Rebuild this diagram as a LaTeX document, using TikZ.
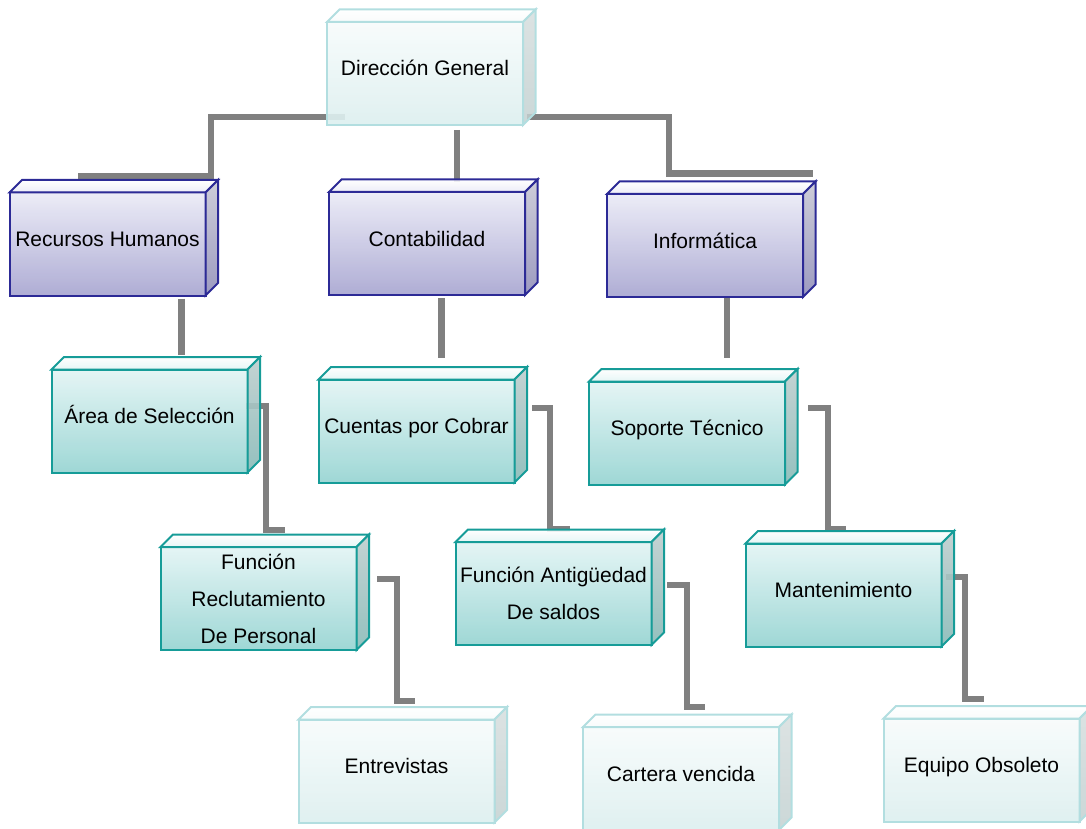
\documentclass[tikz,border=0pt]{standalone}
\usepackage{fontspec}
\setmainfont{Liberation Sans}
\usepackage{tikz}
\definecolor{lineagris}{RGB}{128,128,128}
\definecolor{bordemorado}{RGB}{44,42,150}
\definecolor{moradoarriba}{RGB}{234,234,246}
\definecolor{moradoabajo}{RGB}{166,164,208}
\definecolor{ladomoradoa}{RGB}{200,200,212}
\definecolor{ladomoradob}{RGB}{146,144,186}
\definecolor{bordeverde}{RGB}{22,156,152}
\definecolor{verdearriba}{RGB}{226,244,244}
\definecolor{verdeabajo}{RGB}{148,211,209}
\definecolor{ladoverdea}{RGB}{190,206,206}
\definecolor{ladoverdeb}{RGB}{136,186,183}
\definecolor{bordeclaro}{RGB}{178,222,224}
\definecolor{clarosarriba}{RGB}{247,251,251}
\definecolor{clarosabajo}{RGB}{220,239,239}
\definecolor{ladoclaroa}{RGB}{214,222,222}
\definecolor{ladoclarob}{RGB}{194,208,208}
\pgfdeclarelayer{fondo}
\pgfsetlayers{fondo,main}

\begin{document}
\begin{tikzpicture}[x=1pt,y=-1pt,
	caja/.style={minimum width=196pt, minimum height=103pt, inner sep=2pt, outer sep=0pt,
		line width=2pt, font=\fontsize{21}{37}\selectfont, align=center,
		fill opacity=0.9, text opacity=1},
	una/.style={text height=15pt, text depth=10pt},
	morada/.style={caja, draw=bordemorado, top color=moradoarriba, middle color=moradoabajo, bottom color=moradoabajo},
	verde/.style={caja, draw=bordeverde, top color=verdearriba, middle color=verdeabajo, bottom color=verdeabajo},
	clara/.style={caja, draw=bordeclaro, top color=clarosarriba, bottom color=clarosabajo},
	conector/.style={line width=6.5pt, color=lineagris}]

	\useasboundingbox (0,0) rectangle (1086,829);

	\node[clara,una] (dir) at (425,73.5) {Dirección General};

	\node[morada,una] (rh) at (107.5,244) {Recursos Humanos};
	\node[morada,una] (cont) at (427,243.5) {Contabilidad};
	\node[morada,una] (info) at (705,245.5) {Informática};

	\node[verde,una] (area) at (149.5,421) {Área de Selección};
	\node[verde,una] (cuentas) at (416.5,431) {Cuentas por Cobrar};
	\node[verde,una] (soporte) at (687,433) {Soporte Técnico};

	\node[verde] (recl) at (258.5,598.5) {Función\\Reclutamiento\\De Personal};
	\node[verde] (antig) at (553.5,593.5) {Función Antigüedad\\De saldos};
	\node[verde,una] (mant) at (843.5,595) {Mantenimiento};

	\node[clara,una] (entrev) at (396.5,771) {Entrevistas};
	\node[clara,una] (cartera) at (681,778.5) {Cartera vencida};
	\node[clara,una] (equipo) at (981.5,770) {Equipo Obsoleto};

	\foreach \n in {rh,cont,info} {
		\shade[draw=bordemorado, line width=2pt, fill opacity=0.9, top color=white, bottom color=moradoarriba] (\n.north west) -- ++(12.5,-12.5) -- ([shift={(12.5,-12.5)}]\n.north east) -- (\n.north east) -- cycle;
		\shade[draw=bordemorado, line width=2pt, fill opacity=0.9, top color=ladomoradoa, bottom color=ladomoradob] (\n.north east) -- ++(12.5,-12.5) -- ([shift={(12.5,-12.5)}]\n.south east) -- (\n.south east) -- cycle;
	}
	\foreach \n in {area,cuentas,soporte,recl,antig,mant} {
		\shade[draw=bordeverde, line width=2pt, fill opacity=0.9, top color=white, bottom color=verdearriba] (\n.north west) -- ++(12.5,-12.5) -- ([shift={(12.5,-12.5)}]\n.north east) -- (\n.north east) -- cycle;
		\shade[draw=bordeverde, line width=2pt, fill opacity=0.9, top color=ladoverdea, bottom color=ladoverdeb] (\n.north east) -- ++(12.5,-12.5) -- ([shift={(12.5,-12.5)}]\n.south east) -- (\n.south east) -- cycle;
	}
	\foreach \n in {dir,entrev,cartera,equipo} {
		\shade[draw=bordeclaro, line width=2pt, fill opacity=0.85, top color=white, bottom color=clarosarriba] (\n.north west) -- ++(12.5,-12.5) -- ([shift={(12.5,-12.5)}]\n.north east) -- (\n.north east) -- cycle;
		\shade[draw=bordeclaro, line width=2pt, fill opacity=0.85, top color=ladoclaroa, bottom color=ladoclarob] (\n.north east) -- ++(12.5,-12.5) -- ([shift={(12.5,-12.5)}]\n.south east) -- (\n.south east) -- cycle;
	}

	\begin{pgfonlayer}{fondo}
	\draw[conector] ([shift={(-80,-8)}]dir.south) -| ([shift={(103.5,-16.5)}]rh.north) -- ([shift={(-29.5,-16.5)}]rh.north);
	\draw[conector] ([shift={(32,5)}]dir.south) -- ([shift={(30,-10)}]cont.north);
	\draw[conector] ([shift={(4,-8)}]dir.south east) -| ([shift={(-36,-20.5)}]info.north) -- ([shift={(108,-20.5)}]info.north);

	\draw[conector] ([shift={(74,3)}]rh.south) -- ([shift={(32,-14.5)}]area.north);
	\draw[conector] ([shift={(14.5,3)}]cont.south) -- ([shift={(25,-21.5)}]cuentas.north);
	\draw[conector] ([shift={(22,0)}]info.south) -- ([shift={(40,-23.5)}]soporte.north);

	\draw[conector] ([shift={(-1.5,-15)}]area.east) -| ([shift={(7.5,-17)}]recl.north) -- ([shift={(26.5,-17)}]recl.north);
	\draw[conector] ([shift={(17.5,-23)}]cuentas.east) -| ([shift={(-3.5,-13)}]antig.north) -- ([shift={(16.5,-13)}]antig.north);
	\draw[conector] ([shift={(23,-25)}]soporte.east) -| ([shift={(-15.5,-14.5)}]mant.north) -- ([shift={(2.5,-14.5)}]mant.north);

	\draw[conector] ([shift={(20.5,-19.5)}]recl.east) -| ([shift={(0.5,-18.5)}]entrev.north) -- ([shift={(18.5,-18.5)}]entrev.north);
	\draw[conector] ([shift={(15.5,-8.5)}]antig.east) -| ([shift={(6,-20)}]cartera.north) -- ([shift={(24,-20)}]cartera.north);
	\draw[conector] ([shift={(4.5,-18)}]mant.east) -| ([shift={(-16.5,-19.5)}]equipo.north) -- ([shift={(2.5,-19.5)}]equipo.north);
	\end{pgfonlayer}

\end{tikzpicture}
\end{document}
